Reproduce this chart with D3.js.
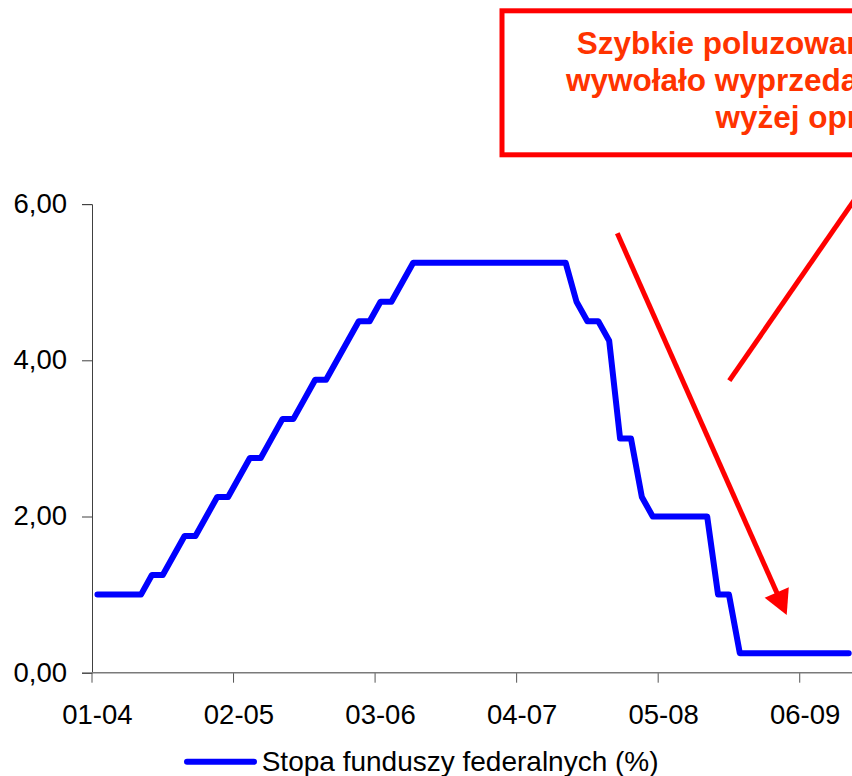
<!DOCTYPE html>
<html>
<head>
<meta charset="utf-8">
<script src="https://cdn.jsdelivr.net/npm/d3@7"></script>
<style>
  html, body { margin: 0; padding: 0; background: #ffffff; overflow: hidden; }
  svg { display: block; }
  text { font-family: "Liberation Sans", Arial, sans-serif; }
</style>
</head>
<body>
<script>
// ---- Data ----
const months = [
  "01-04","02-04","03-04","04-04","05-04","06-04","07-04","08-04","09-04","10-04","11-04","12-04",
  "01-05","02-05","03-05","04-05","05-05","06-05","07-05","08-05","09-05","10-05","11-05","12-05",
  "01-06","02-06","03-06","04-06","05-06","06-06","07-06","08-06","09-06","10-06","11-06","12-06",
  "01-07","02-07","03-07","04-07","05-07","06-07","07-07","08-07","09-07","10-07","11-07","12-07",
  "01-08","02-08","03-08","04-08","05-08","06-08","07-08","08-08","09-08","10-08","11-08","12-08",
  "01-09","02-09","03-09","04-09","05-09","06-09","07-09","08-09","09-09","10-09"
];
const fedRate = [
  1.00,1.00,1.00,1.00,1.00,1.25,1.25,1.50,1.75,1.75,2.00,2.25,
  2.25,2.50,2.75,2.75,3.00,3.25,3.25,3.50,3.75,3.75,4.00,4.25,
  4.50,4.50,4.75,4.75,5.00,5.25,5.25,5.25,5.25,5.25,5.25,5.25,
  5.25,5.25,5.25,5.25,5.25,5.25,5.25,5.25,4.75,4.50,4.50,4.25,
  3.00,3.00,2.25,2.00,2.00,2.00,2.00,2.00,2.00,1.00,1.00,0.25,
  0.25,0.25,0.25,0.25,0.25,0.25,0.25,0.25,0.25,0.25
];
const xTickLabels = ["01-04","02-05","03-06","04-07","05-08","06-09"];
const yTicks = [0, 2, 4, 6];
const seriesName = "Stopa funduszy federalnych (%)";
const noteLines = ["Szybkie poluzowanie", "wywołało wyprzedaż", "wyżej oprocentowanych"];

// ---- Layout ----
const W = 852, H = 776;
const plotLeft = 92, plotBottom = 672.7, plotTop = 204.1;
const step = 10.888;

const svg = d3.select("body").append("svg")
  .attr("width", W).attr("height", H);

const x = d3.scaleBand()
  .domain(months)
  .range([plotLeft, plotLeft + months.length * step])
  .paddingInner(0).paddingOuter(0);

const y = d3.scaleLinear().domain([0, 6]).range([plotBottom, plotTop]);

const fmt = v => d3.format(".2f")(v).replace(".", ",");

// Y axis
const yAxis = svg.append("g")
  .attr("transform", `translate(${plotLeft},0)`)
  .call(d3.axisLeft(y).tickValues(yTicks).tickSize(10).tickPadding(15).tickFormat(fmt));
yAxis.select(".domain").attr("stroke", "#404040").attr("stroke-width", 1);
yAxis.selectAll(".tick line").attr("stroke", "#404040");
yAxis.selectAll(".tick text")
  .attr("font-size", "27.5px").attr("fill", "#000")
  .attr("font-family", "'Liberation Sans', Arial, sans-serif")
  .attr("dy", "8.3px");

// X axis: ticks at category boundaries, labels at category centres
const xAxis = svg.append("g")
  .attr("transform", `translate(0,${plotBottom})`)
  .call(d3.axisBottom(x).tickValues(xTickLabels).tickSize(0).tickPadding(0));
xAxis.select(".domain").remove();
xAxis.append("line")
  .attr("x1", plotLeft).attr("x2", W + 5)
  .attr("y1", 0).attr("y2", 0)
  .attr("stroke", "#7a7a7a").attr("stroke-width", 1.5);
xAxis.selectAll(".tick line").remove();
xAxis.selectAll(".tick").append("line")
  .attr("x1", -x.bandwidth() / 2).attr("x2", -x.bandwidth() / 2)
  .attr("y1", 0).attr("y2", 10)
  .attr("stroke", "#555").attr("stroke-width", 1);
xAxis.selectAll(".tick text")
  .attr("font-size", "27.5px").attr("fill", "#000")
  .attr("font-family", "'Liberation Sans', Arial, sans-serif")
  .attr("dy", null).attr("y", 51.6);

// Series line
const line = d3.line()
  .x((d, i) => x(months[i]) + x.bandwidth() / 2)
  .y(d => y(d));
svg.append("path")
  .datum(fedRate)
  .attr("d", line)
  .attr("fill", "none")
  .attr("stroke", "#0000ff")
  .attr("stroke-width", 6)
  .attr("stroke-linejoin", "round")
  .attr("stroke-linecap", "round");

// Legend
const lg = svg.append("g");
lg.append("line")
  .attr("x1", 187).attr("x2", 254).attr("y1", 761.7).attr("y2", 761.7)
  .attr("stroke", "#0000ff").attr("stroke-width", 6).attr("stroke-linecap", "round");
lg.append("text")
  .attr("x", 261.7).attr("y", 771)
  .attr("font-size", "28px").attr("fill", "#000")
  .text(seriesName);

// Annotation box
svg.append("rect")
  .attr("x", 502).attr("y", 10.8)
  .attr("width", 420).attr("height", 144)
  .attr("fill", "#fff")
  .attr("stroke", "#ff0000").attr("stroke-width", 5);

const noteX = [576.7, 566, 715.5];
const noteY = [54.3, 91.3, 127.7];
svg.append("g").selectAll("text")
  .data(noteLines)
  .join("text")
  .attr("x", (d, i) => noteX[i])
  .attr("y", (d, i) => noteY[i])
  .attr("font-size", "31.5px")
  .attr("font-weight", "bold")
  .attr("fill", "#ff3300")
  .text(d => d);

// Arrows
function arrow(x1, y1, x2, y2, headLen, headHalf) {
  const dx = x2 - x1, dy = y2 - y1, len = Math.hypot(dx, dy);
  const ux = dx / len, uy = dy / len, nx = -uy, ny = ux;
  const bx = x2 - headLen * ux, by = y2 - headLen * uy;
  svg.append("line")
    .attr("x1", x1).attr("y1", y1)
    .attr("x2", bx + 2 * ux).attr("y2", by + 2 * uy)
    .attr("stroke", "#ff0000").attr("stroke-width", 5);
  svg.append("path")
    .attr("d", `M${x2},${y2}L${bx + headHalf * nx},${by + headHalf * ny}L${bx - headHalf * nx},${by - headHalf * ny}Z`)
    .attr("fill", "#ff0000");
}
arrow(617.3, 233.3, 786.7, 615, 24.6, 13.2);

svg.append("line")
  .attr("x1", 729.3).attr("y1", 380.7)
  .attr("x2", 884).attr("y2", 157)
  .attr("stroke", "#ff0000").attr("stroke-width", 5);
</script>
</body>
</html>
